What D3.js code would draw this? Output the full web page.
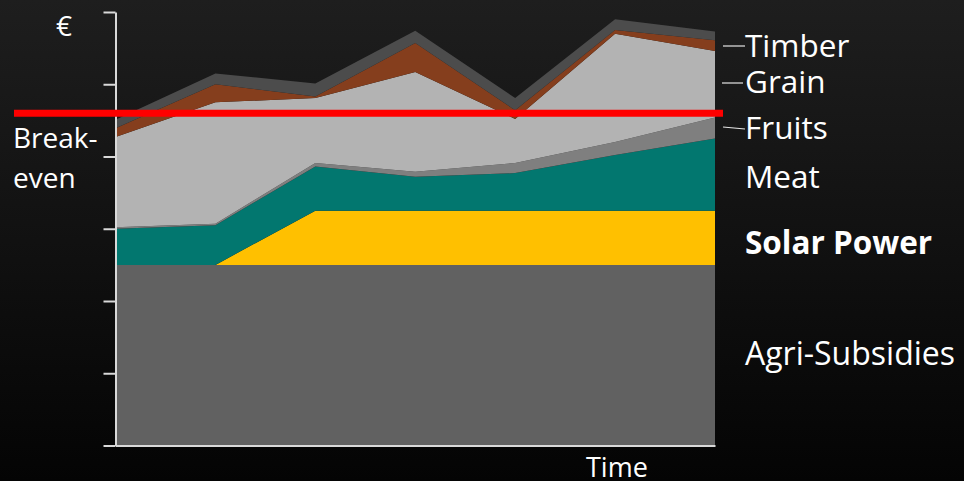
<!DOCTYPE html>
<html>
<head>
<meta charset="utf-8">
<script src="https://cdn.jsdelivr.net/npm/d3@7"></script>
<style>
  html, body { margin: 0; padding: 0; background: #0a0a0a; }
  svg { display: block; }
</style>
</head>
<body>
<svg id="chart" width="964" height="481"></svg>
<script>
// Time periods along the x axis (unlabelled steps)
const periods = [0, 1, 2, 3, 4, 5, 6];

// Income streams, stacked bottom to top
const agriSubsidies = [2.5, 2.5, 2.5, 2.5, 2.5, 2.5, 2.5];
const solarPower    = [0, 0, 0.75, 0.75, 0.75, 0.75, 0.75];
const meat          = [0.5, 0.55, 0.61, 0.47, 0.52, 0.77, 1.0];
const fruits        = [0.02, 0.02, 0.05, 0.07, 0.14, 0.18, 0.29];
const grain         = [1.25, 1.68, 0.9, 1.38, 0.61, 1.5, 0.92];
const timber        = [0.12, 0.25, 0.02, 0.4, 0.12, 0.05, 0.15];
const other         = [0.12, 0.15, 0.18, 0.17, 0.17, 0.15, 0.12];

const seriesNames  = ["Agri-Subsidies", "Solar Power", "Meat", "Fruits", "Grain", "Timber", "Other"];
const seriesValues = [agriSubsidies, solarPower, meat, fruits, grain, timber, other];
const seriesColors = ["#616161", "#FFC000", "#02776F", "#7F7F7F", "#B3B3B3", "#853E1D", "#4C4C4C"];

// Break-even income level
const breakEven = 4.6;
// Value-axis tick positions (no labels)
const yTicks = [0, 1, 2, 3, 4, 5, 6];

const svg = d3.select("#chart");
const W = 964, H = 481;

// Background gradient
const defs = svg.append("defs");
const grad = defs.append("linearGradient").attr("id", "bg")
  .attr("x1", 0).attr("y1", 0).attr("x2", 0).attr("y2", 1);
grad.append("stop").attr("offset", "0%").attr("stop-color", "#1e1e1e");
grad.append("stop").attr("offset", "100%").attr("stop-color", "#040404");
svg.append("rect").attr("width", W).attr("height", H).attr("fill", "url(#bg)");

const x = d3.scaleLinear().domain([0, 6]).range([115.5, 715]);
const y = d3.scaleLinear().domain([0, 6]).range([445.5, 12]);

// Build rows for stacking
const rows = periods.map((p, i) => {
  const r = { t: p };
  seriesNames.forEach((n, k) => { r[n] = seriesValues[k][i]; });
  return r;
});
const stacked = d3.stack().keys(seriesNames)(rows);

const area = d3.area()
  .x(d => x(d.data.t))
  .y0(d => y(d[0]))
  .y1(d => y(d[1]));

svg.append("g").selectAll("path")
  .data(stacked)
  .join("path")
  .attr("d", area)
  .attr("fill", (d, i) => seriesColors[i]);

// Axes
const axisColor = "#d9d9d9";
const yAxis = svg.append("g")
  .attr("transform", "translate(115.5,0)")
  .call(d3.axisLeft(y).tickValues(yTicks).tickSize(12).tickSizeOuter(0).tickFormat(""));
yAxis.selectAll("path, line").attr("stroke", axisColor).attr("stroke-width", 2);

const xAxis = svg.append("g")
  .attr("transform", "translate(0,445.5)")
  .call(d3.axisBottom(x).tickValues([]).tickSizeOuter(0));
xAxis.selectAll("path").attr("stroke", axisColor).attr("stroke-width", 2);

// Break-even line
svg.append("line")
  .attr("x1", 14).attr("x2", 723)
  .attr("y1", y(breakEven)).attr("y2", y(breakEven))
  .attr("stroke", "#FF0000").attr("stroke-width", 7);

const font = "'Open Sans', 'Noto Sans', sans-serif";
const txt = (s, tx, ty, size, weight) => svg.append("text")
  .attr("x", tx).attr("y", ty)
  .attr("fill", "#ffffff")
  .attr("font-family", font)
  .attr("font-size", size)
  .attr("font-weight", weight || "normal")
  .text(s);

// Axis captions
txt("€", 56, 36, 28);
txt("Time", 586, 477, 27);
txt("Break-", 13, 148, 28);
txt("even", 13, 188, 28);

// Series labels on the right
txt("Timber", 745, 57, 31.5);
txt("Grain", 745, 93, 31.5);
txt("Fruits", 745, 139, 31.5);
txt("Meat", 745, 188, 31.5);
txt("Solar Power", 745, 254, 31.5, "bold");
txt("Agri-Subsidies", 745, 365, 32);

// Leader lines for the thin layers
const leaders = [[723, 46, 745, 46], [722, 83, 743, 83], [723, 127, 745, 129]];
svg.append("g").selectAll("line")
  .data(leaders)
  .join("line")
  .attr("x1", d => d[0]).attr("y1", d => d[1])
  .attr("x2", d => d[2]).attr("y2", d => d[3])
  .attr("stroke", "#e6e6e6").attr("stroke-width", 1.2);
</script>
</body>
</html>
